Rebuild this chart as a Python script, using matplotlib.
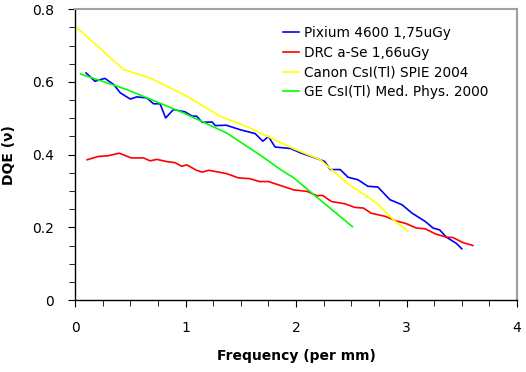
import matplotlib.pyplot as plt
from matplotlib.ticker import MultipleLocator

# Pixium 4600 1.75uGy
pixium_f = [0.10, 0.18, 0.27, 0.35, 0.41, 0.50, 0.56, 0.65, 0.71, 0.77, 0.82, 0.89,
            0.995, 1.06, 1.10, 1.15, 1.24, 1.27, 1.37, 1.49, 1.63, 1.70, 1.75, 1.81,
            1.95, 2.04, 2.22, 2.26, 2.31, 2.40, 2.47, 2.56, 2.65, 2.74, 2.85, 2.96,
            3.05, 3.17, 3.24, 3.30, 3.36, 3.45, 3.50]
pixium_dqe = [0.625, 0.602, 0.610, 0.593, 0.570, 0.553, 0.559, 0.556, 0.540, 0.540, 0.501, 0.524,
              0.518, 0.506, 0.506, 0.489, 0.490, 0.480, 0.481, 0.469, 0.458, 0.437, 0.450, 0.421,
              0.417, 0.405, 0.386, 0.381, 0.359, 0.359, 0.338, 0.331, 0.313, 0.311, 0.276, 0.262,
              0.239, 0.216, 0.198, 0.193, 0.173, 0.156, 0.141]

# DRC a-Se 1.66uGy
drc_f = [0.11, 0.21, 0.30, 0.40, 0.51, 0.62, 0.68, 0.74, 0.83, 0.905, 0.966, 1.01,
         1.10, 1.15, 1.21, 1.30, 1.37, 1.48, 1.58, 1.67, 1.75, 1.87, 1.98, 2.10,
         2.19, 2.24, 2.32, 2.44, 2.53, 2.61, 2.68, 2.81, 2.90, 2.99, 3.09, 3.17,
         3.26, 3.36, 3.42, 3.51, 3.60]
drc_dqe = [0.386, 0.395, 0.397, 0.404, 0.391, 0.391, 0.383, 0.387, 0.381, 0.378, 0.368, 0.372,
           0.357, 0.352, 0.357, 0.352, 0.348, 0.336, 0.334, 0.326, 0.326, 0.314, 0.303, 0.299,
           0.287, 0.288, 0.271, 0.265, 0.255, 0.253, 0.239, 0.230, 0.218, 0.211, 0.198, 0.196,
           0.182, 0.173, 0.172, 0.158, 0.150]

# Canon CsI(Tl) SPIE 2004
canon_f = [0.0, 0.44, 0.68, 1.01, 1.31, 1.55, 1.98, 2.22, 2.46, 2.73, 2.88, 3.01]
canon_dqe = [0.754, 0.634, 0.611, 0.561, 0.506, 0.478, 0.416, 0.386, 0.322, 0.267, 0.221, 0.190]

# GE CsI(Tl) Med. Phys. 2000
ge_f = [0.05, 0.47, 0.98, 1.37, 1.67, 1.86, 1.98, 2.16, 2.51]
ge_dqe = [0.622, 0.579, 0.515, 0.460, 0.400, 0.359, 0.336, 0.290, 0.202]

fig = plt.figure(figsize=(5.26, 3.72), dpi=100)
ax = fig.add_axes([0.1426, 0.1935, 0.8404, 0.7815])

ax.plot(pixium_f, pixium_dqe, color="#0000ff", lw=1.2, label="Pixium 4600 1,75uGy")
ax.plot(drc_f, drc_dqe, color="#ff0000", lw=1.2, label="DRC a-Se 1,66uGy")
ax.plot(canon_f, canon_dqe, color="#ffff00", lw=1.2, label="Canon CsI(Tl) SPIE 2004")
ax.plot(ge_f, ge_dqe, color="#00ff00", lw=1.2, label="GE CsI(Tl) Med. Phys. 2000")

ax.set_xlim(0, 4)
ax.set_ylim(0, 0.8)
ax.xaxis.set_major_locator(MultipleLocator(1))
ax.xaxis.set_minor_locator(MultipleLocator(0.25))
ax.yaxis.set_major_locator(MultipleLocator(0.2))
ax.yaxis.set_minor_locator(MultipleLocator(0.05))
ax.tick_params(which="both", direction="out", labelsize=10, colors="black")
ax.tick_params(which="major", length=5, pad=10)
ax.tick_params(which="minor", length=4)
ax.xaxis.set_major_formatter(plt.FuncFormatter(lambda v, p: f"{v:g}"))
ax.yaxis.set_major_formatter(plt.FuncFormatter(lambda v, p: f"{v:g}"))

for s in ["top", "right"]:
    ax.spines[s].set_color("#a0a0a0")
    ax.spines[s].set_linewidth(1.5)
for s in ["left", "bottom"]:
    ax.spines[s].set_color("black")
    ax.spines[s].set_linewidth(1.0)

ax.set_xlabel("Frequency (per mm)", fontsize=10, fontweight="bold", labelpad=10)
ax.set_ylabel("DQE (ν)", fontsize=10, fontweight="bold", labelpad=12)

ax.legend(loc="upper left", bbox_to_anchor=(0.443, 0.985), frameon=False, fontsize=9.8,
          handlelength=1.2, handletextpad=0.3, labelspacing=0.42)

fig.savefig("out.png", dpi=100)
